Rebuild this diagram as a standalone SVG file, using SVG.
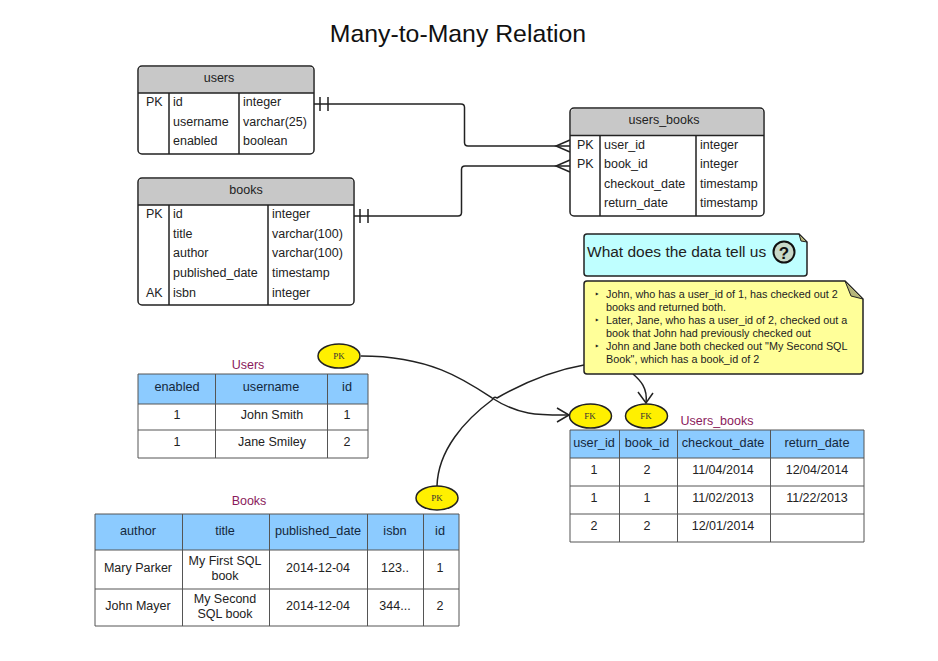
<svg xmlns="http://www.w3.org/2000/svg" width="938" height="661" viewBox="0 0 938 661">
<style>
text{font-family:"Liberation Sans",Arial,sans-serif;font-size:12.5px;fill:#222}
.c{text-anchor:middle}
.title{font-size:24.800px;fill:#111}
.cap{fill:#8a1a5c;font-size:12.500px}
.th{fill:#14283c;font-size:12.700px}
.k{font-family:"Liberation Serif",serif;font-size:9px;fill:#333;text-anchor:middle}
.box{fill:#fff;stroke:#222;stroke-width:1.5}
.hd{fill:#c8c8c8}
.ln{stroke:#222;stroke-width:1.5;fill:none}
.tl{stroke:#555;stroke-width:1;fill:none}
.thbg{fill:#8ccbff}
.ell{fill:#fff000;stroke:#222;stroke-width:1.5}
.con{stroke:#222;stroke-width:1.5;fill:none}
.note{font-size:10.800px;fill:#222}
</style>
<rect width="938" height="661" fill="#fff"/>
<text class="title c" x="458" y="42">Many-to-Many Relation</text>

<g id="connectors">
<path class="con" d="M314 104H461Q464.500 104 464.500 107.500V142.500Q464.500 146 468 146H570"/>
<path class="con" d="M354 216H458Q461.500 216 461.500 212.500V169.500Q461.500 166 465 166H570"/>
<path class="con" d="M320 97V111M328 97V111M360 209V223M368 209V223"/>
<path class="con" d="M570 140L556 146L570 152M570 160L556 166L570 172"/>
<path class="con" d="M361 356C430 356 465 380 492 398C520 416 540 415 569 415"/>
<path class="con" d="M557 408L569 415L557 422"/>
<path class="con" d="M437 486C438 450 465 420 492 400Q494 396 497 398C525 382 555 370 584 365"/>
<path class="con" d="M633 374C640 380 648 388 646 403"/>
<path class="con" d="M638 392L646 403L653 393"/>
</g>

<g id="users">
<rect class="box" x="138" y="66" width="176" height="88" rx="4"/>
<path class="hd" d="M139 93V70Q139 67 142 67H310Q313 67 313 70V93Z"/>
<path class="ln" d="M138 93H314M169 93V154M239 93V154"/>
<text class="c" x="219" y="82">users</text>
<text x="146" y="106">PK</text>
<text x="173" y="106">id</text><text x="243" y="106">integer</text>
<text x="173" y="126">username</text><text x="243" y="126">varchar(25)</text>
<text x="173" y="145">enabled</text><text x="243" y="145">boolean</text>
</g>

<g id="books">
<rect class="box" x="138" y="178" width="216" height="127" rx="4"/>
<path class="hd" d="M139 205V182Q139 179 142 179H350Q353 179 353 182V205Z"/>
<path class="ln" d="M138 205H354M169 205V305M268 205V305"/>
<text class="c" x="246" y="194">books</text>
<text x="146" y="218">PK</text>
<text x="173" y="218">id</text><text x="272" y="218">integer</text>
<text x="173" y="238">title</text><text x="272" y="238">varchar(100)</text>
<text x="173" y="257">author</text><text x="272" y="257">varchar(100)</text>
<text x="173" y="277">published_date</text><text x="272" y="277">timestamp</text>
<text x="146" y="297">AK</text>
<text x="173" y="297">isbn</text><text x="272" y="297">integer</text>
</g>

<g id="users_books">
<rect class="box" x="570" y="108" width="194" height="108" rx="4"/>
<path class="hd" d="M571 135V112Q571 109 574 109H760Q763 109 763 112V135Z"/>
<path class="ln" d="M570 135.500H764M600 135.500V216M696 135.500V216"/>
<text class="c" x="664" y="124">users_books</text>
<text x="577" y="149">PK</text>
<text x="604" y="149">user_id</text><text x="700" y="149">integer</text>
<text x="577" y="168">PK</text>
<text x="604" y="168">book_id</text><text x="700" y="168">integer</text>
<text x="604" y="188">checkout_date</text><text x="700" y="188">timestamp</text>
<text x="604" y="207">return_date</text><text x="700" y="207">timestamp</text>
</g>

<g id="question-note">
<path d="M587 234H799L807 242V273Q807 276 804 276H587Q584 276 584 273V237Q584 234 587 234Z" fill="#bfffff" stroke="#222" stroke-width="1.500"/>
<path d="M799 234L807 242L801 241Z" fill="#b5b57a" stroke="#222"/>
<text x="587" y="257" style="font-size:15.500px" fill="#111">What does the data tell us</text>
<circle cx="784" cy="252" r="10.500" fill="#c8d8c8" stroke="#111" stroke-width="2"/>
<text class="c" x="784" y="258.500" style="font-size:17px;font-weight:bold;fill:#111">?</text>
</g>

<g id="data-note">
<path d="M587 281H845L863 299V371Q863 374 860 374H587Q584 374 584 371V284Q584 281 587 281Z" fill="#ffff99" stroke="#222" stroke-width="1.500"/>
<path d="M845 281L863 299L851 296Z" fill="#b5b57a" stroke="#222"/>
<text class="note" x="595" y="298">‣</text>
<text class="note" x="606" y="298">John, who has a user_id of 1, has checked out 2</text>
<text class="note" x="606" y="311">books and returned both.</text>
<text class="note" x="595" y="324">‣</text>
<text class="note" x="606" y="324">Later, Jane, who has a user_id of 2, checked out a</text>
<text class="note" x="606" y="337">book that John had previously checked out</text>
<text class="note" x="595" y="350">‣</text>
<text class="note" x="606" y="350">John and Jane both checked out "My Second SQL</text>
<text class="note" x="606" y="363">Book", which has a book_id of 2</text>
</g>

<g id="pk-users"><ellipse class="ell" cx="339" cy="356" rx="21" ry="12"/><text class="k" x="339" y="359">PK</text></g>
<g id="pk-books"><ellipse class="ell" cx="437" cy="498" rx="21" ry="12"/><text class="k" x="437" y="501">PK</text></g>
<g id="fk-user"><ellipse class="ell" cx="590.500" cy="416" rx="21" ry="12"/><text class="k" x="590" y="419">FK</text></g>
<g id="fk-book"><ellipse class="ell" cx="646.500" cy="416" rx="21" ry="12"/><text class="k" x="646" y="419">FK</text></g>

<g id="users-table">
<text class="cap c" x="248" y="369">Users</text>
<rect class="thbg" x="138" y="374" width="230" height="30"/>
<path class="tl" d="M138 374H368V458H138ZM138 404H368M138 430H368M215.500 374V458M327.500 374V458"/>
<text class="th c" x="177" y="391">enabled</text><text class="th c" x="271" y="391">username</text><text class="th c" x="347" y="391">id</text>
<text class="c" x="177" y="419">1</text><text class="c" x="272" y="419">John Smith</text><text class="c" x="347" y="419">1</text>
<text class="c" x="177" y="446">1</text><text class="c" x="272" y="446">Jane Smiley</text><text class="c" x="347" y="446">2</text>
</g>

<g id="books-table">
<text class="cap c" x="249" y="505">Books</text>
<rect class="thbg" x="95" y="514" width="364" height="36"/>
<path class="tl" d="M95 514H459V626H95ZM95 550H459M95 589H459M182.500 514V626M269.500 514V626M367.500 514V626M423.500 514V626"/>
<text class="th c" x="138" y="535">author</text><text class="th c" x="225" y="535">title</text><text class="th c" x="318" y="535">published_date</text><text class="th c" x="395" y="535">isbn</text><text class="th c" x="440" y="535">id</text>
<text class="c" x="138" y="572">Mary Parker</text><text class="c" x="225" y="565">My First SQL</text><text class="c" x="225" y="580">book</text><text class="c" x="318" y="572">2014-12-04</text><text class="c" x="395" y="572">123..</text><text class="c" x="440" y="572">1</text>
<text class="c" x="138" y="610">John Mayer</text><text class="c" x="225" y="603">My Second</text><text class="c" x="225" y="618">SQL book</text><text class="c" x="318" y="610">2014-12-04</text><text class="c" x="395" y="610">344...</text><text class="c" x="440" y="610">2</text>
</g>

<g id="users-books-table">
<text class="cap c" x="717" y="425">Users_books</text>
<rect class="thbg" x="570" y="430" width="294" height="28"/>
<path class="tl" d="M570 430H864V542H570ZM570 458H864M570 486H864M570 514H864M619.500 430V542M677.500 430V542M770.500 430V542"/>
<text class="th c" x="594" y="447">user_id</text><text class="th c" x="647" y="447">book_id</text><text class="th c" x="723" y="447">checkout_date</text><text class="th c" x="817" y="447">return_date</text>
<text class="c" x="594" y="474">1</text><text class="c" x="647" y="474">2</text><text class="c" x="723" y="474">11/04/2014</text><text class="c" x="817" y="474">12/04/2014</text>
<text class="c" x="594" y="502">1</text><text class="c" x="647" y="502">1</text><text class="c" x="723" y="502">11/02/2013</text><text class="c" x="817" y="502">11/22/2013</text>
<text class="c" x="594" y="530">2</text><text class="c" x="647" y="530">2</text><text class="c" x="723" y="530">12/01/2014</text>
</g>
</svg>
